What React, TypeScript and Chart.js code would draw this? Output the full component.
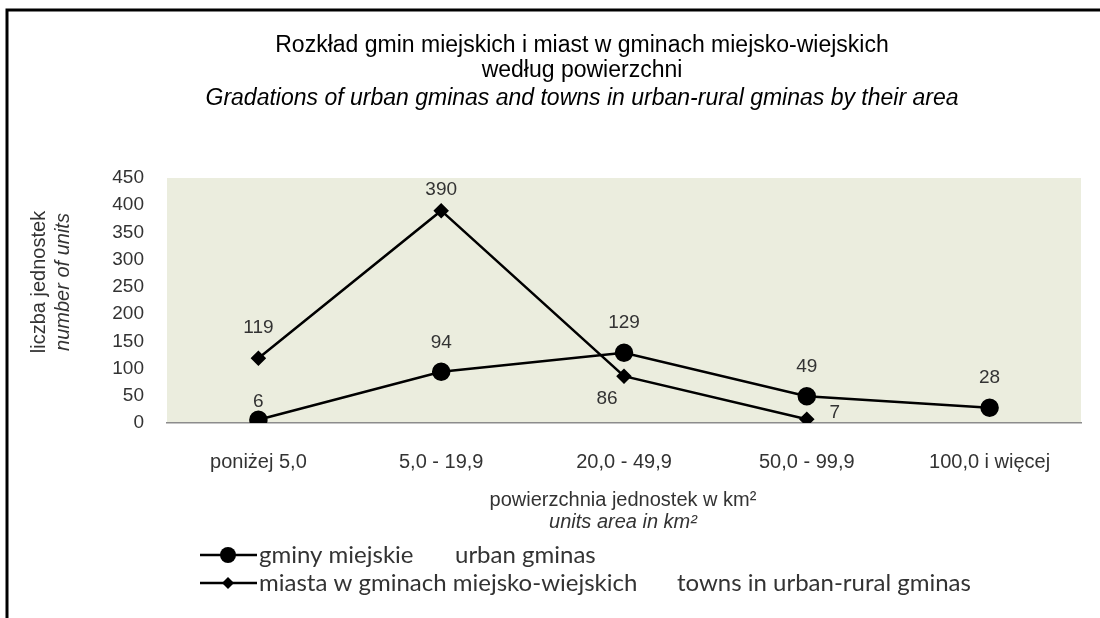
import React, { useEffect, useRef } from "react";
import { Chart, registerables } from "chart.js";

Chart.register(...registerables);

// ---- data ----
const categories = ["poniżej 5,0", "5,0 - 19,9", "20,0 - 49,9", "50,0 - 99,9", "100,0 i więcej"];
const urbanGminas = [6, 94, 129, 49, 28];
const townsUrbanRural: (number | null)[] = [119, 390, 86, 7, null];
const yMin = 0;
const yMax = 450;
const yStep = 50;

const seriesNamePl = ["gminy miejskie", "miasta w gminach miejsko-wiejskich"];
const seriesNameEn = ["urban gminas", "towns in urban-rural gminas"];
const titleLines = [
  "Rozkład gmin miejskich i miast w gminach miejsko-wiejskich",
  "według powierzchni",
];
const titleLineEn = "Gradations of urban gminas and towns in urban-rural gminas by their area";
const yTitlePl = "liczba jednostek";
const yTitleEn = "number of units";
const xTitlePl = "powierzchnia jednostek w km²";
const xTitleEn = "units area in km²";

// label placement (style, pixel offsets from the marker)
const urbanLabelOffsets: [number, number][] = [[0, -18], [0, -29], [0, -30], [0, -30], [0, -30]];
const townsLabelOffsets: ([number, number] | null)[] = [[0, -30], [0, -21], [-17, 23], [28, -6], null];

const SANS = "'Liberation Sans', Arial, sans-serif";
const LEG = "Lato, 'Open Sans', sans-serif";
const TXT = "#333";

const decor = {
  id: "decor",
  beforeDraw(chart: any) {
    const { ctx, chartArea: a } = chart;
    ctx.save();
    ctx.fillStyle = "#ffffff";
    ctx.fillRect(0, 0, chart.width, chart.height);
    ctx.fillStyle = "rgb(235,237,222)";
    ctx.fillRect(a.left, a.top, a.right - a.left, a.bottom - a.top);
    ctx.restore();
  },
  afterDraw(chart: any) {
    const { ctx } = chart;
    ctx.save();
    // frame
    ctx.strokeStyle = "#000";
    ctx.lineWidth = 3;
    ctx.beginPath();
    ctx.moveTo(7, 618);
    ctx.lineTo(7, 10);
    ctx.lineTo(1100, 10);
    ctx.stroke();

    // title
    ctx.fillStyle = "#000";
    ctx.textAlign = "center";
    ctx.textBaseline = "middle";
    ctx.font = `23px ${SANS}`;
    ctx.fillText(titleLines[0], 582, 46);
    ctx.fillText(titleLines[1], 582, 71);
    ctx.font = `italic 23px ${SANS}`;
    ctx.fillText(titleLineEn, 582, 99);

    // y title
    ctx.fillStyle = TXT;
    ctx.save();
    ctx.translate(39, 282);
    ctx.rotate(-Math.PI / 2);
    ctx.font = `20px ${SANS}`;
    ctx.fillText(yTitlePl, 0, 0);
    ctx.restore();
    ctx.save();
    ctx.translate(63, 282);
    ctx.rotate(-Math.PI / 2);
    ctx.font = `italic 20px ${SANS}`;
    ctx.fillText(yTitleEn, 0, 0);
    ctx.restore();

    // x title
    ctx.font = `20px ${SANS}`;
    ctx.fillText(xTitlePl, 623, 500);
    ctx.font = `italic 20px ${SANS}`;
    ctx.fillText(xTitleEn, 623, 522);

    // data labels
    ctx.font = `19px ${SANS}`;
    ctx.fillStyle = TXT;
    const offs = [urbanLabelOffsets, townsLabelOffsets];
    chart.data.datasets.forEach((ds: any, di: number) => {
      const meta = chart.getDatasetMeta(di);
      meta.data.forEach((el: any, i: number) => {
        const v = ds.data[i];
        const o = offs[di][i];
        if (v === null || v === undefined || !o) return;
        ctx.fillText(String(v), el.x + o[0], el.y + o[1]);
      });
    });

    // legend
    const rows = [555, 583];
    rows.forEach((y, i) => {
      ctx.strokeStyle = "#000";
      ctx.lineWidth = 2.5;
      ctx.beginPath();
      ctx.moveTo(200, y);
      ctx.lineTo(257, y);
      ctx.stroke();
      ctx.fillStyle = "#000";
      ctx.beginPath();
      if (i === 0) {
        ctx.arc(228, y, 8, 0, Math.PI * 2);
      } else {
        ctx.moveTo(228, y - 6);
        ctx.lineTo(234, y);
        ctx.lineTo(228, y + 6);
        ctx.lineTo(222, y);
        ctx.closePath();
      }
      ctx.fill();
      ctx.fillStyle = TXT;
      ctx.textAlign = "left";
      ctx.font = `24px ${LEG}`;
      ctx.fillText(seriesNamePl[i], 259, y);
      ctx.fillText(seriesNameEn[i], i === 0 ? 455 : 677, y);
    });
    ctx.restore();
  },
};

export default function App() {
  const ref = useRef<HTMLCanvasElement>(null);
  useEffect(() => {
    const canvas = ref.current!;
    const chart = new Chart(canvas, {
      type: "line",
      data: {
        labels: categories,
        datasets: [
          {
            label: seriesNamePl[0] + " " + seriesNameEn[0],
            data: urbanGminas,
            borderColor: "#000",
            backgroundColor: "#000",
            borderWidth: 2.5,
            pointStyle: "circle",
            pointRadius: 8,
            pointBackgroundColor: "#000",
            pointBorderColor: "#000",
            tension: 0,
          },
          {
            label: seriesNamePl[1] + " " + seriesNameEn[1],
            data: townsUrbanRural,
            borderColor: "#000",
            backgroundColor: "#000",
            borderWidth: 2.5,
            pointStyle: "rectRot",
            pointRadius: 6,
            pointBackgroundColor: "#000",
            pointBorderColor: "#000",
            tension: 0,
            spanGaps: false,
          },
        ],
      },
      options: {
        responsive: false,
        animation: false,
        devicePixelRatio: 1,
        layout: { padding: { top: 178, right: 19, bottom: 0, left: 0 } },
        plugins: {
          legend: { display: false },
          title: { display: false },
          tooltip: { enabled: false },
        },
        scales: {
          x: {
            type: "category",
            offset: true,
            grid: { display: false, drawTicks: false },
            border: { display: true, color: "#8c8c8c", width: 1.5 },
            ticks: {
              font: { family: SANS, size: 20 },
              color: TXT,
              padding: 27,
              maxRotation: 0,
              autoSkip: false,
            },
            afterFit: (s: any) => {
              s.height = 195;
            },
          },
          y: {
            min: yMin,
            max: yMax,
            ticks: {
              stepSize: yStep,
              padding: 23,
              font: { family: SANS, size: 19 },
              color: TXT,
            },
            grid: { display: false, drawTicks: false },
            border: { display: false },
            afterFit: (s: any) => {
              s.width = 167;
            },
          },
        },
      },
      plugins: [decor],
    });
    return () => chart.destroy();
  }, []);
  return (
    <div style={{ position: "absolute", left: 0, top: 0, width: 1100, height: 618, background: "#fff" }}>
      <canvas ref={ref} width={1100} height={618} style={{ display: "block", width: 1100, height: 618 }} />
    </div>
  );
}
